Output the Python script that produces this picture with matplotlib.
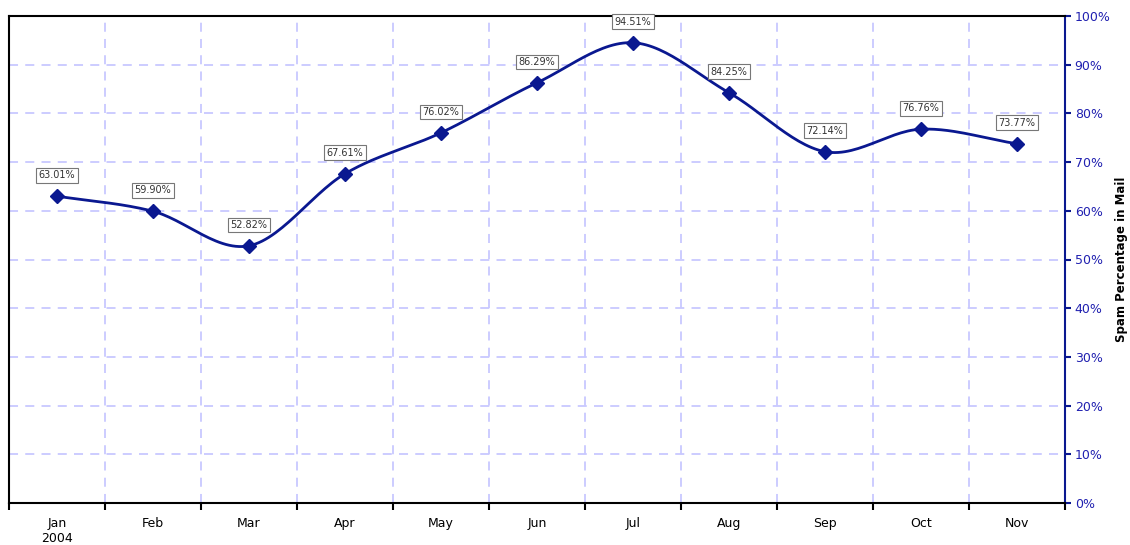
import numpy as np
from matplotlib import pyplot as plt

# 数据
months = ["Jan\n2004", "Feb", "Mar", "Apr", "May", "Jun", "Jul", "Aug", "Sep", "Oct", "Nov"]
spam = [63.01, 59.90, 52.82, 67.61, 76.02, 86.29, 94.51, 84.25, 72.14, 76.76, 73.77]
yticks = [0, 10, 20, 30, 40, 50, 60, 70, 80, 90, 100]

navy = '#0a1890'
grid_c = '#c8c8ff'


def smooth(xs, ys, n=30):
    # catmull-rom 平滑曲线
    xs = np.asarray(xs, float)
    ys = np.asarray(ys, float)
    px = np.concatenate([[2 * xs[0] - xs[1]], xs, [2 * xs[-1] - xs[-2]]])
    py = np.concatenate([[2 * ys[0] - ys[1]], ys, [2 * ys[-1] - ys[-2]]])
    ox, oy = [], []
    for i in range(1, len(px) - 2):
        t = np.linspace(0, 1, n)
        for p, o in ((px, ox), (py, oy)):
            p0, p1, p2, p3 = p[i - 1], p[i], p[i + 1], p[i + 2]
            o.extend(0.5 * (2 * p1 + (-p0 + p2) * t + (2 * p0 - 5 * p1 + 4 * p2 - p3) * t ** 2
                            + (-p0 + 3 * p1 - 3 * p2 + p3) * t ** 3))
    return np.array(ox), np.array(oy)


fig = plt.figure(figsize=(11.3, 5.45), dpi=100)
ax = fig.add_axes([9 / 1130, 42 / 545, 1056 / 1130, 487 / 545])

x = np.arange(len(months))
sx, sy = smooth(x, spam)
ax.plot(sx, sy, color=navy, linewidth=2, zorder=3)
ax.plot(x, spam, 'D', color=navy, markersize=7.5, zorder=4)

for a, b in zip(x, spam):
    ax.annotate("%.2f%%" % b, (a, b), xytext=(0, 15), textcoords='offset points',
                ha='center', va='center', fontsize=7, color='#333333',
                bbox=dict(boxstyle='square,pad=0.25', fc='white', ec='#777777', lw=0.8), zorder=5)

ax.set_xlim(-0.5, len(months) - 0.5)
ax.set_ylim(0, 100)

# 网格
for g in np.arange(0.5, len(months) - 1, 1):
    ax.axvline(g, color=grid_c, linestyle=(0, (5, 4)), linewidth=1.3, zorder=1)
for g in yticks[1:-1]:
    ax.axhline(g, color=grid_c, linestyle=(0, (5, 4)), linewidth=1.3, zorder=1)

ax.set_xticks(x)
ax.set_xticklabels(months, fontsize=9)
ax.tick_params(axis='x', length=0, pad=10)
ax.set_xticks(np.arange(-0.5, len(months), 1), minor=True)
ax.tick_params(axis='x', which='minor', length=5, width=1.5, direction='out')

ax.yaxis.tick_right()
ax.yaxis.set_label_position('right')
ax.set_yticks(yticks)
ax.set_yticklabels(["%d%%" % v for v in yticks], fontsize=9, color='#2020b0')
ax.tick_params(axis='y', length=4, width=1.5, color=navy, pad=3)
ax.set_ylabel("Spam Percentage in Mail", fontsize=8.5, fontweight='bold', labelpad=3)

for s in ['left', 'top', 'bottom']:
    ax.spines[s].set_linewidth(1.5)
    ax.spines[s].set_color('black')
ax.spines['right'].set_color(navy)
ax.spines['right'].set_linewidth(1.5)

plt.savefig('out.png', dpi=100)
